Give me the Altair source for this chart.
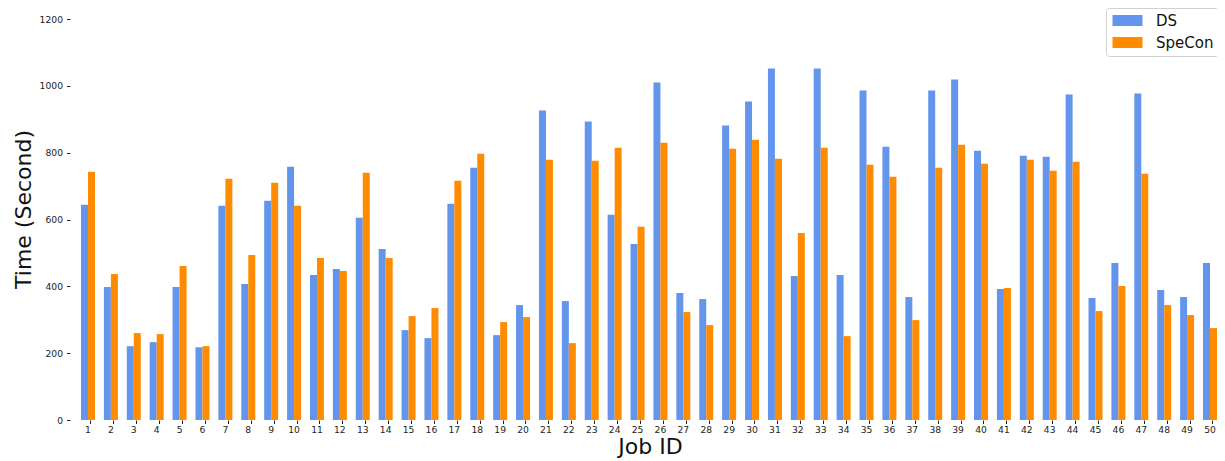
import altair as alt
import pandas as pd

jobs = list(range(1, 51))
series_names = ["DS", "SpeCon"]
ds = [644, 398, 221, 233, 398, 218, 641, 407, 656, 758,
      434, 452, 605, 512, 269, 245, 647, 755, 254, 344,
      926, 356, 893, 614, 527, 1010, 380, 362, 881, 953,
      1052, 431, 1052, 434, 986, 818, 368, 986, 1019, 806,
      392, 791, 788, 974, 365, 470, 977, 389, 368, 470]
specon = [743, 437, 260, 257, 461, 221, 722, 494, 710, 641,
          485, 446, 740, 485, 311, 335, 716, 797, 293, 308,
          779, 230, 776, 815, 578, 830, 323, 284, 812, 839,
          782, 560, 815, 251, 764, 728, 299, 755, 824, 767,
          395, 779, 746, 773, 326, 401, 737, 344, 314, 275]
y_ticks = [0, 200, 400, 600, 800, 1000, 1200]
colors = ["#6495ED", "#FF8C00"]

rows = []
for j, a, b in zip(jobs, ds, specon):
    rows.append({"job": j, "series": "DS", "time": a})
    rows.append({"job": j, "series": "SpeCon", "time": b})
df = pd.DataFrame(rows)

FONT = "DejaVu Sans"

chart = alt.Chart(df).mark_bar().encode(
    x=alt.X(
        "job:O",
        title="Job ID",
        scale=alt.Scale(paddingInner=0.3886, paddingOuter=0.2399, align=1),
        axis=alt.Axis(
            labelAngle=0, bandPosition=0.71, domain=False, tickSize=3.5,
            tickColor="#222", labelColor="#222", labelFontSize=9.2,
            labelPadding=2, labelFont=FONT, titleFont=FONT, titleFontSize=22,
            titleFontWeight="normal", titleColor="#111", titlePadding=2,
            titleX=580, labelOverlap=False,
        ),
    ),
    xOffset=alt.XOffset("series:N", sort=series_names,
                        scale=alt.Scale(paddingInner=0, paddingOuter=0)),
    y=alt.Y(
        "time:Q",
        title="Time (Second)",
        scale=alt.Scale(domain=[0, 1227], nice=False, zero=True),
        axis=alt.Axis(
            values=y_ticks, format="d", grid=False, domain=False, tickSize=3.5,
            tickColor="#222", labelColor="#222", labelFontSize=9.2,
            labelPadding=4, labelFont=FONT, titleFont=FONT, titleFontSize=22,
            titleFontWeight="normal", titleColor="#111", titlePadding=4,
            titleY=199,
        ),
    ),
    color=alt.Color(
        "series:N",
        scale=alt.Scale(domain=series_names, range=colors),
        legend=alt.Legend(
            title=None, orient="none", legendX=1036, legendY=-2,
            labelFontSize=15, labelFont=FONT, labelColor="#111",
            symbolType="M-1,-0.917H4V0.917H-1Z", symbolSize=144,
            symbolStrokeWidth=0, symbolOpacity=1, padding=5,
            strokeColor="#d0d0d0", cornerRadius=3, fillColor="white",
            labelOffset=30, rowPadding=6,
        ),
    ),
).properties(
    width=1147, height=410,
    autosize=alt.AutoSizeParams(type="none"),
    padding={"left": 62, "top": 2, "right": 0, "bottom": 41},
).configure_view(stroke=None)

chart.save("out.html", embed_options={"renderer": "svg", "actions": False})
